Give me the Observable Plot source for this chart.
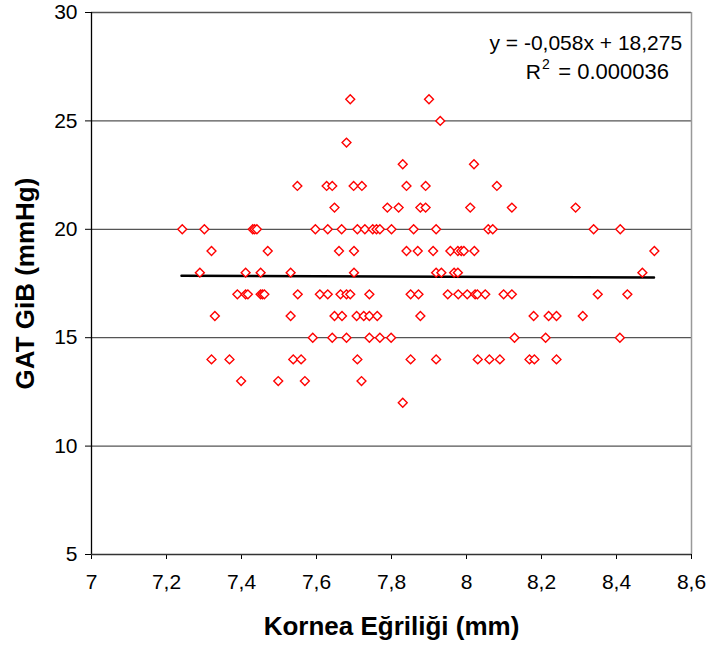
<!DOCTYPE html>
<html>
<head>
<meta charset="utf-8">
<script src="https://cdn.jsdelivr.net/npm/d3@7"></script>
<script src="https://cdn.jsdelivr.net/npm/@observablehq/plot@0.6"></script>
<style>
  html, body { margin: 0; padding: 0; background: #fff; }
  svg { font-family: "Liberation Sans", Arial, sans-serif; }
</style>
</head>
<body>
<div id="chart"></div>
<script>
// Kornea eğriliği (mm) vs GAT GİB (mmHg), grouped by integer GİB value
const y26 = [7.69, 7.90];
const y25 = [7.93];
const y24 = [7.68];
const y23 = [7.83, 8.02];
const y22 = [7.549, 7.627, 7.642, 7.699, 7.721, 7.84, 7.891, 8.081];
const y21 = [7.648, 7.789, 7.819, 7.877, 7.891, 8.01, 8.121, 8.291];
const y20 = [7.242, 7.301, 7.43, 7.435, 7.441, 7.597, 7.63, 7.667, 7.709, 7.729, 7.75, 7.76, 7.769, 7.80, 7.859, 7.919, 8.058, 8.07, 8.339, 8.41];
const y19 = [7.32, 7.47, 7.66, 7.70, 7.84, 7.87, 7.911, 7.957, 7.977, 7.986, 7.993, 8.021, 8.501];
const y18 = [7.289, 7.411, 7.451, 7.531, 7.70, 7.919, 7.933, 7.967, 7.977, 8.469];
const y17 = [7.389, 7.411, 7.417, 7.451, 7.456, 7.461, 7.55, 7.609, 7.63, 7.664, 7.68, 7.69, 7.741, 7.851, 7.872, 7.95, 7.978, 8.002, 8.023, 8.029, 8.05, 8.099, 8.121, 8.35, 8.429];
const y16 = [7.329, 7.531, 7.648, 7.668, 7.707, 7.726, 7.741, 7.762, 7.877, 8.179, 8.219, 8.24, 8.31];
const y15 = [7.59, 7.642, 7.68, 7.741, 7.769, 7.799, 8.128, 8.211, 8.409];
const y14 = [7.32, 7.368, 7.538, 7.559, 7.709, 7.851, 7.919, 8.03, 8.061, 8.089, 8.168, 8.181, 8.24];
const y13 = [7.399, 7.498, 7.569, 7.72];
const y12 = [7.83];

const groups = [[26, y26], [25, y25], [24, y24], [23, y23], [22, y22], [21, y21], [20, y20], [19, y19], [18, y18], [17, y17], [16, y16], [15, y15], [14, y14], [13, y13], [12, y12]];

const xTicks = [7, 7.2, 7.4, 7.6, 7.8, 8, 8.2, 8.4, 8.6];
const yTicks = [5, 10, 15, 20, 25, 30];
const gridY = [10, 15, 20, 25, 30];

// Trend line from the stated equation y = -0,058x + 18,275 over the data range
const slope = -0.058, intercept = 18.275;
const trendX = [7.24, 8.50];

const equationText = "y = -0,058x + 18,275";
const r2Base = "R";
const r2Sup = "2";
const r2Value = "= 0.000036";
const xLabel = "Kornea Eğriliği (mm)";
const yLabel = "GAT GiB (mmHg)";

const points = groups.flatMap(([gib, xs]) => xs.map(k => ({k, gib})));
const trend = trendX.map(k => ({k, gib: slope * k + intercept}));
const comma = d => String(d).replace(".", ",");

const chart = Plot.plot({
  width: 710,
  height: 650,
  marginLeft: 91,
  marginRight: 19,
  marginTop: 12,
  marginBottom: 96,
  style: {fontFamily: "'Liberation Sans', Arial, sans-serif", background: "#fff"},
  x: {domain: [7, 8.6]},
  y: {domain: [5, 30]},
  marks: [
    Plot.ruleY(gridY, {stroke: "#555", strokeWidth: 1.3}),
    Plot.ruleX([8.6], {stroke: "#999", strokeWidth: 1.5}),
    Plot.axisX({ticks: xTicks, tickFormat: comma, tickSize: 5, tickPadding: 15, fontSize: 21, label: null, stroke: "#000"}),
    Plot.axisY({ticks: yTicks, tickSize: 6, tickPadding: 8, fontSize: 21, label: null, stroke: "#000"}),
    Plot.ruleX([7], {stroke: "#000", strokeWidth: 1.3}),
    Plot.ruleY([5], {stroke: "#333", strokeWidth: 1.6}),
    Plot.line(trend, {x: "k", y: "gib", stroke: "#000", strokeWidth: 2.5}),
    Plot.dot(points, {x: "k", y: "gib", symbol: "diamond2", r: 4, stroke: "#ff0000", fill: "#fff", strokeWidth: 1.4}),
    Plot.text([equationText], {x: 8.575, y: 28.6, text: d => d, textAnchor: "end", fontSize: 21, fill: "#000"}),
    Plot.text([r2Value], {x: 8.54, y: 27.25, text: d => d, textAnchor: "end", fontSize: 22, fill: "#000"}),
    Plot.text([r2Base], {x: 8.54, y: 27.25, dx: -128, text: d => d, textAnchor: "end", fontSize: 21, fill: "#000"}),
    Plot.text([r2Sup], {x: 8.54, y: 27.25, dx: -127, dy: -8, text: d => d, textAnchor: "start", fontSize: 14, fill: "#000"}),
    Plot.text([xLabel], {frameAnchor: "bottom", dy: 72, lineAnchor: "middle", textAnchor: "middle", text: d => d, fontSize: 26, fontWeight: "bold", fill: "#000"}),
    Plot.text([yLabel], {frameAnchor: "left", dx: -66, rotate: -90, textAnchor: "middle", lineAnchor: "middle", text: d => d, fontSize: 26, fontWeight: "bold", fill: "#000"})
  ]
});
document.getElementById("chart").appendChild(chart);
</script>
</body>
</html>
